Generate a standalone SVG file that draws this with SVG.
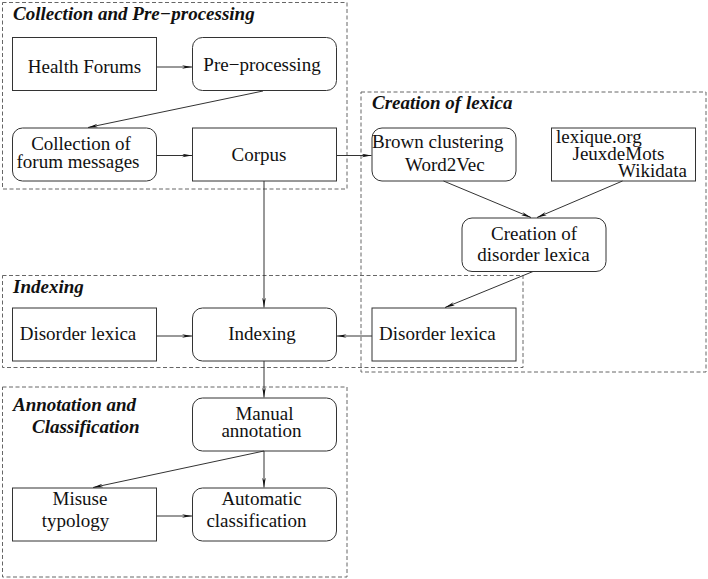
<svg xmlns="http://www.w3.org/2000/svg" width="708" height="579" viewBox="0 0 708 579">
<defs>
<marker id="ah" markerUnits="userSpaceOnUse" viewBox="0 0 10 4" refX="10" refY="2" markerWidth="10" markerHeight="4" orient="auto">
<path d="M0,0.2 L10,2 L0,3.8 L3,2 z" fill="#111"/>
</marker>
<style>
.grp{fill:none;stroke:#666;stroke-width:1;stroke-dasharray:4,2.5}
.box{fill:#fff;stroke:#333;stroke-width:1}
text{font-family:'Liberation Serif','DejaVu Serif',serif;fill:#111}
.t{font-size:19px}
.c{text-anchor:middle}
.ti{font-size:19px;font-weight:bold;font-style:italic}
.e{fill:none;stroke:#333;stroke-width:1;marker-end:url(#ah)}
</style>
</defs>
<rect width="708" height="579" fill="#fff"/>
<g id="groups">
<rect class="grp" x="2.5" y="2.5" width="344.5" height="186.5"/>
<rect class="grp" x="361" y="92" width="345" height="280"/>
<rect class="grp" x="2.5" y="275.5" width="520.5" height="92"/>
<rect class="grp" x="2.5" y="387" width="344.5" height="190"/>
<text class="ti" x="13" y="20">Collection and Pre−processing</text>
<text class="ti" x="372" y="109">Creation of lexica</text>
<text class="ti" x="13" y="293">Indexing</text>
<text class="ti" x="13" y="411">Annotation and</text>
<text class="ti" x="32" y="433">Classification</text>
</g>
<g id="health-forums"><rect class="box" x="12.5" y="37.5" width="144" height="53"/><text class="t c" x="84.5" y="73">Health Forums</text></g>
<g id="pre-processing"><rect class="box" x="192.5" y="37.5" width="144" height="53" rx="10"/><text class="t c" x="262" y="71">Pre−processing</text></g>
<g id="collection"><rect class="box" x="12.5" y="128" width="144" height="53" rx="10"/><text class="t c" x="81" y="149.5">Collection of</text><text class="t c" x="78" y="168">forum messages</text></g>
<g id="corpus"><rect class="box" x="192.5" y="128" width="144" height="53"/><text class="t c" x="259" y="161">Corpus</text></g>
<g id="brown"><rect class="box" x="372" y="128" width="144" height="53" rx="10"/><text class="t" x="372" y="148">Brown clustering</text><text class="t" x="405" y="170.5">Word2Vec</text></g>
<g id="lexique"><rect class="box" x="551.5" y="128" width="144" height="53"/><text class="t" x="556" y="142.5">lexique.org</text><text class="t" x="572.5" y="160">JeuxdeMots</text><text class="t" x="618" y="177">Wikidata</text></g>
<g id="creation"><rect class="box" x="462" y="218" width="144" height="53.5" rx="10"/><text class="t c" x="534" y="239.5">Creation of</text><text class="t c" x="533.5" y="260.5">disorder lexica</text></g>
<g id="disorder-lexica-right"><rect class="box" x="372" y="308" width="144" height="53"/><text class="t" x="379" y="339.5">Disorder lexica</text></g>
<g id="disorder-lexica-left"><rect class="box" x="12.5" y="308" width="144" height="53"/><text class="t c" x="78" y="339.5">Disorder lexica</text></g>
<g id="indexing"><rect class="box" x="192.5" y="308" width="144" height="53" rx="10"/><text class="t c" x="262" y="339.5">Indexing</text></g>
<g id="manual"><rect class="box" x="192.5" y="398" width="144" height="53" rx="10"/><text class="t c" x="264.5" y="419.5">Manual</text><text class="t c" x="261.5" y="437">annotation</text></g>
<g id="misuse"><rect class="box" x="12.5" y="488" width="144" height="53"/><text class="t c" x="80" y="505">Misuse</text><text class="t c" x="75.5" y="527">typology</text></g>
<g id="automatic"><rect class="box" x="192.5" y="488" width="144" height="53" rx="10"/><text class="t c" x="261.5" y="505">Automatic</text><text class="t c" x="256.5" y="527">classification</text></g>
<g id="connectors">
<line class="e" x1="156.5" y1="67" x2="192" y2="67"/>
<line class="e" x1="263" y1="91" x2="88" y2="127.5"/>
<line class="e" x1="156.5" y1="155.5" x2="192" y2="155.5"/>
<line class="e" x1="336.5" y1="155.5" x2="371.5" y2="155.5"/>
<line class="e" x1="443.5" y1="181" x2="531" y2="217.5"/>
<line class="e" x1="622.5" y1="181" x2="537" y2="217.5"/>
<line class="e" x1="533" y1="271.5" x2="445" y2="307.5"/>
<line class="e" x1="372" y1="336" x2="336.5" y2="336"/>
<line class="e" x1="156.5" y1="336" x2="192" y2="336"/>
<line class="e" x1="264" y1="181" x2="264" y2="307.5"/>
<line class="e" x1="264" y1="361" x2="264" y2="397.5"/>
<line class="e" x1="264" y1="451" x2="93" y2="487.5"/>
<line class="e" x1="264" y1="451" x2="264" y2="487.5"/>
<line class="e" x1="156.5" y1="516" x2="192" y2="516"/>
</g>
</svg>
